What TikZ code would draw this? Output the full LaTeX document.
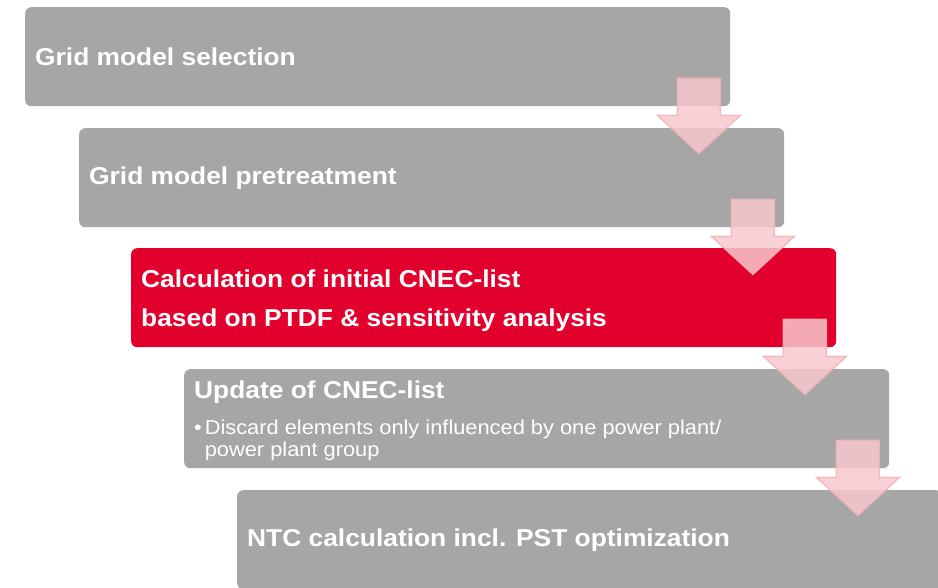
\documentclass[tikz,border=0pt]{standalone}
\usepackage{fontspec}
\setmainfont[FakeStretch=1.08]{Liberation Sans}
\usetikzlibrary{calc}

\definecolor{boxgray}{RGB}{166,166,166}
\definecolor{boxred}{RGB}{226,0,44}
\definecolor{flowfill}{RGB}{247,200,206}
\definecolor{flowline}{RGB}{243,180,188}

\begin{document}
\begin{tikzpicture}[x=1pt, y=-1pt,
  stage/.style={fill=boxgray, rounded corners=6pt, inner sep=0pt,
    minimum width=705pt, minimum height=99pt, anchor=north west},
  title/.style={text=white, inner sep=0pt, align=left,
    font=\bfseries\fontsize{24.4}{39}\selectfont},
  note/.style={text=white, inner sep=0pt, align=left,
    font=\fontsize{20.2}{22}\selectfont},
  flow/.style={fill=flowfill, draw=flowline, line width=1.5pt,
    fill opacity=0.85, draw opacity=0.85, line join=miter}]
  \useasboundingbox (0,0) rectangle (938,588);
  \clip (0,0) rectangle (938,588);

  % the five stages
  \node[stage]              (s1) at (25,7)    {};
  \node[stage]              (s2) at (79,128)  {};
  \node[stage, fill=boxred] (s3) at (131,248) {};
  \node[stage]              (s4) at (184,369) {};
  \node[stage]              (s5) at (237,490) {};

  % texts
  \node[title, anchor=west] (t1) at ($(s1.west)+(10,0)$) {Grid model selection};
  \node[title, anchor=west] (t2) at ($(s2.west)+(10,0)$) {Grid model pretreatment};
  \node[title, anchor=west] (t3) at ($(s3.west)+(10,3)$)
    {Calculation of initial CNEC-list\\based on PTDF \& sensitivity analysis};
  \node[title, anchor=base west] (t4) at ($(s4.north west)+(10,29)$) {Update of CNEC-list};
  \node[note, anchor=base west] (n4) at ($(s4.north west)+(10,87)$)
    {•\hspace{3pt}Discard elements only influenced by one power plant/\\
     \phantom{•\hspace{3pt}}power plant group};
  \node[title, anchor=west] (t5) at ($(s5.west)+(10,0)$)
    {NTC calculation incl. PST optimization};

  % arrows between the stages
  \foreach \a in {s1,s2,s3,s4} {
    \draw[flow] ($(\a.south east)+(-53,-28)$) -- ++(43,0) -- ++(0,37)
      -- ++(20,0) -- ++(-41.5,38) -- ++(-41.5,-38) -- ++(20,0) -- cycle;
  }
\end{tikzpicture}
\end{document}
